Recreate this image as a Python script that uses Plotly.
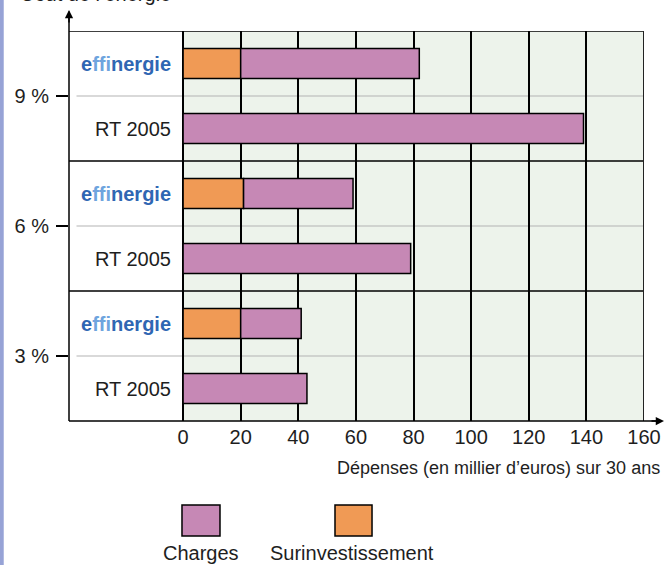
import plotly.graph_objects as go

# ---- data ----
rows = [0, 1, 2, 3, 4, 5]  # bottom -> top
row_labels = ["RT 2005", "effinergie", "RT 2005", "effinergie", "RT 2005", "effinergie"]
group_ticks = [0.5, 2.5, 4.5]
group_labels = ["3 %", "6 %", "9 %"]

surinv_rows = [1, 3, 5]
surinv_vals = [20, 21, 20]

charges_rows = [0, 1, 2, 3, 4, 5]
charges_base = [0, 20, 0, 21, 0, 20]
charges_vals = [43, 21, 79, 38, 139, 62]

x_ticks = [0, 20, 40, 60, 80, 100, 120, 140, 160]
x_title = "Dépenses (en millier d\u2019euros) sur 30 ans"
top_title = "Coût de l\u2019énergie"
legend_names = ["Charges", "Surinvestissement"]

PURPLE = "#C688B5"
ORANGE = "#F09A55"
BG = "#EDF3EB"
FONT = "Liberation Sans, Arial, sans-serif"
TXT = "#1e1e1e"

XMIN = -39.6
XMAX = 160

fig = go.Figure()
fig.add_trace(go.Bar(
    y=surinv_rows, x=surinv_vals, base=[0] * len(surinv_vals), orientation="h",
    width=0.46, marker=dict(color=ORANGE, line=dict(color="black", width=1.5)),
    name=legend_names[1], showlegend=False, hoverinfo="skip"))
fig.add_trace(go.Bar(
    y=charges_rows, x=charges_vals, base=charges_base, orientation="h",
    width=0.46, marker=dict(color=PURPLE, line=dict(color="black", width=1.5)),
    name=legend_names[0], showlegend=False, hoverinfo="skip"))

shapes = []
# white label area
shapes.append(dict(type="rect", xref="x", yref="y", x0=XMIN, x1=0, y0=-0.5, y1=5.5,
                   fillcolor="white", line=dict(width=0), layer="below"))
# gray mid lines
for t in group_ticks:
    shapes.append(dict(type="line", xref="x", yref="y", x0=-37, x1=XMAX, y0=t, y1=t,
                       line=dict(color="#B4B4B4", width=1.2), layer="below"))
# black group separators and frame
for s in [1.5, 3.5, 5.5]:
    shapes.append(dict(type="line", xref="x", yref="y", x0=XMIN, x1=XMAX, y0=s, y1=s,
                       line=dict(color="black", width=1.5), layer="above"))
shapes.append(dict(type="line", xref="x", yref="y", x0=XMAX, x1=XMAX, y0=-0.5, y1=5.5,
                   line=dict(color="#222", width=2), layer="above"))
# extended x axis line
shapes.append(dict(type="line", xref="paper", yref="paper", x0=0, x1=1.03, y0=0, y1=0,
                   line=dict(color="black", width=1.5), layer="above"))
# extended y axis line
shapes.append(dict(type="line", xref="paper", yref="paper", x0=0, x1=0, y0=0, y1=1.05,
                   line=dict(color="black", width=1.5), layer="above"))
# left blue strip
shapes.append(dict(type="rect", xref="paper", yref="paper", x0=-0.12, x1=-0.1135,
                   y0=-0.37, y1=1.08, fillcolor="#97A3D6", line=dict(width=0)))
# legend squares
shapes.append(dict(type="rect", xref="paper", yref="paper", x0=0.1965, x1=0.2626,
                   y0=-0.2949, y1=-0.2154, fillcolor=PURPLE, line=dict(color="black", width=1.5)))
shapes.append(dict(type="rect", xref="paper", yref="paper", x0=0.4626, x1=0.5270,
                   y0=-0.2949, y1=-0.2154, fillcolor=ORANGE, line=dict(color="black", width=1.5)))

annotations = []
for r, lab in zip(rows, row_labels):
    if lab == "effinergie":
        txt = ("<b><span style='color:#2F66B3'>e</span>"
               "<span style='color:#6EA4DE'>ffi</span>"
               "<span style='color:#2F66B3'>nergie</span></b>")
    else:
        txt = lab
    annotations.append(dict(x=-3.6, y=r, xref="x", yref="y", text=txt, showarrow=False,
                            xanchor="right", yanchor="middle",
                            font=dict(size=20, color=TXT, family=FONT)))
# arrows
annotations.append(dict(x=1.0348, y=0, xref="paper", yref="paper", text="", showarrow=True,
                        ax=-14, ay=0, arrowhead=2, arrowsize=1.1, arrowwidth=1.5, arrowcolor="black"))
annotations.append(dict(x=0, y=1.0538, xref="paper", yref="paper", text="", showarrow=True,
                        ax=0, ay=14, arrowhead=2, arrowsize=1.1, arrowwidth=1.5, arrowcolor="black"))
# x title
annotations.append(dict(x=1.0313, y=-0.1205, xref="paper", yref="paper", text=x_title,
                        showarrow=False, xanchor="right", yanchor="middle",
                        font=dict(size=18, color=TXT, family=FONT)))
# top (cropped) title
annotations.append(dict(x=-0.088, y=1.0605, xref="paper", yref="paper", text=top_title,
                        showarrow=False, xanchor="left", yanchor="bottom",
                        font=dict(size=20, color=TXT, family=FONT)))
# legend texts
annotations.append(dict(x=0.2296, y=-0.3385, xref="paper", yref="paper", text=legend_names[0],
                        showarrow=False, xanchor="center", yanchor="middle",
                        font=dict(size=20, color=TXT, family=FONT)))
annotations.append(dict(x=0.4922, y=-0.3385, xref="paper", yref="paper", text=legend_names[1],
                        showarrow=False, xanchor="center", yanchor="middle",
                        font=dict(size=20, color=TXT, family=FONT)))

fig.update_layout(
    width=667, height=565,
    margin=dict(l=69, r=23, t=31, b=144),
    paper_bgcolor="white", plot_bgcolor=BG,
    barmode="overlay",
    shapes=shapes, annotations=annotations,
    font=dict(family=FONT, size=20, color=TXT),
    xaxis=dict(range=[XMIN, XMAX], tickvals=x_ticks, ticktext=[str(v) for v in x_ticks],
               showgrid=True, gridcolor="black", gridwidth=1.5, zeroline=False,
               showline=False, ticks="", ticklabelstandoff=2, automargin=False,
               tickfont=dict(size=20, color=TXT, family=FONT), fixedrange=True),
    yaxis=dict(range=[-0.5, 5.5], tickvals=group_ticks, ticktext=group_labels,
               showgrid=False, zeroline=False, showline=False,
               ticks="outside", ticklen=12, tickwidth=1.5, tickcolor="black",
               ticklabelstandoff=3, automargin=False,
               tickfont=dict(size=20, color=TXT, family=FONT), fixedrange=True),
)

fig.write_html("out.html", config={"displayModeBar": False},
               post_script="document.body.style.margin='0';document.body.style.padding='0';")
